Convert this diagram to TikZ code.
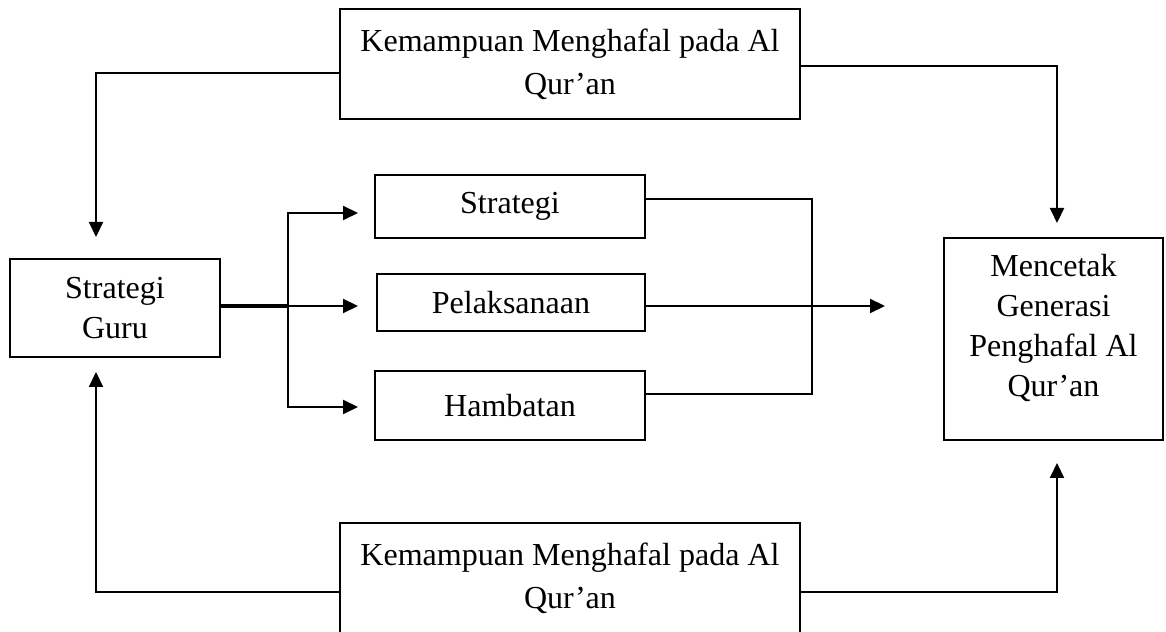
\documentclass[tikz,border=0pt]{standalone}
\usepackage{fontspec}
\setmainfont{Liberation Serif}
\usetikzlibrary{arrows.meta}

\begin{document}
\begin{tikzpicture}[
  kbox/.style={draw, line width=0.9pt, inner sep=0pt, align=center,
               font=\fontsize{22.8}{28.5}\selectfont},
  kemtext/.style={font=\fontsize{22.8}{30.6}\selectfont},
  conn/.style={line width=1.5pt, -{Triangle[length=0.375cm, width=0.35cm]}},
  link/.style={line width=1.2pt}
]
  \useasboundingbox (0,0) rectangle (29.15,-15.8);

  \node[kbox, kemtext, minimum width=11.5cm, minimum height=2.75cm] (kemA) at (14.25,-1.6)
    {Kemampuan Menghafal pada Al\\Qur’an};
  \node[kbox, kemtext, minimum width=11.5cm, minimum height=2.75cm] (kemB) at (14.25,-14.45)
    {Kemampuan Menghafal pada Al\\Qur’an};
  \node[kbox, minimum width=5.25cm, minimum height=2.45cm] (guru) at (2.875,-7.7)
    {Strategi\\Guru};
  \node[kbox, minimum width=6.75cm, minimum height=1.575cm] (strat) at (12.75,-5.1625)
    {Strategi};
  \node[kbox, minimum width=6.7cm, minimum height=1.425cm] (pelak) at (12.775,-7.5625)
    {Pelaksanaan};
  \node[kbox, minimum width=6.75cm, minimum height=1.725cm] (hamb) at (12.75,-10.1375)
    {Hambatan};
  \node[kbox, minimum width=5.475cm, minimum height=5.05cm, text depth=0.67cm] (cetak) at (26.3375,-8.475)
    {Mencetak\\Generasi\\Penghafal Al\\Qur’an};

  \coordinate (fork) at (7.2,-7.65);
  \coordinate (toStrat) at (8.95,-5.325);
  \coordinate (toPelak) at (8.95,-7.65);
  \coordinate (toHamb) at (8.95,-10.175);
  \coordinate (brk) at (20.3,-9.85);
  \coordinate (goal) at (22.125,-7.65);
  \coordinate (topL) at (2.4,-5.925);
  \coordinate (topR) at (26.425,-5.575);
  \coordinate (botL) at (2.4,-9.3);
  \coordinate (botR) at (26.425,-11.575);

  \draw[conn] ([yshift=-0.225cm]kemA.west) -| (topL);
  \draw[conn] ([yshift=-0.05cm]kemA.east) -| (topR);
  \draw[conn] ([yshift=-0.35cm]kemB.west) -| (botL);
  \draw[conn] ([yshift=-0.35cm]kemB.east) -| (botR);

  \draw[line width=2.8pt] (guru.east |- fork) -- (fork);
  \draw[conn] (fork) |- (toStrat);
  \draw[conn] (fork) -- (toPelak);
  \draw[conn] (fork) |- (toHamb);

  \draw[link] ([yshift=0.1875cm]strat.east) -| (brk) -- ([yshift=0.2875cm]hamb.east);
  \draw[conn] ([yshift=-0.0875cm]pelak.east) -- (goal);
\end{tikzpicture}
\end{document}
